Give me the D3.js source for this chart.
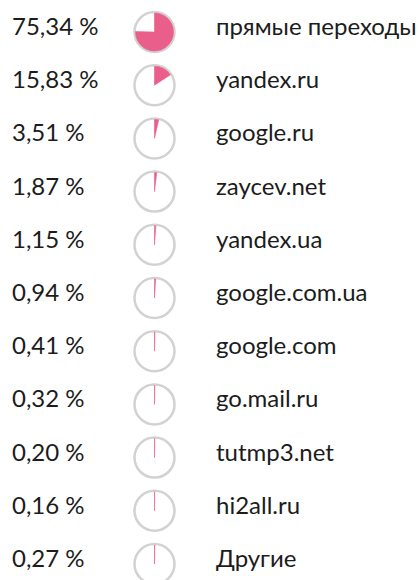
<!DOCTYPE html>
<html>
<head>
<meta charset="utf-8">
<script src="https://cdn.jsdelivr.net/npm/d3@7"></script>
<style>
  body { margin: 0; background: #fff; }
  text { font-family: Lato, Roboto, sans-serif; fill: #1c1c1c; }
</style>
</head>
<body>
<svg id="chart"></svg>
<script>
const width = 418, height = 580;

// traffic sources and their share, %
const sources = ["прямые переходы", "yandex.ru", "google.ru", "zaycev.net", "yandex.ua",
  "google.com.ua", "google.com", "go.mail.ru", "tutmp3.net", "hi2all.ru", "Другие"];
const shares = [75.34, 15.83, 3.51, 1.87, 1.15, 0.94, 0.41, 0.32, 0.20, 0.16, 0.27];

const data = sources.map((s, i) => ({ name: s, value: shares[i] }));

const svg = d3.select("#chart")
  .attr("width", width)
  .attr("height", height);

// one row per source
const y = d3.scalePoint()
  .domain(sources)
  .range([32, 564]);

// percent -> angle
const angle = d3.scaleLinear()
  .domain([0, 100])
  .range([0, 2 * Math.PI]);

const ru = d3.formatLocale({ decimal: ",", thousands: " ", grouping: [3], currency: ["", ""] });
const fmt = ru.format(".2f");

const pieX = 154.5, r = 20;

const arc = d3.arc()
  .innerRadius(0)
  .outerRadius(r - 1)
  .startAngle(0);

const rows = svg.selectAll("g.row")
  .data(data)
  .enter().append("g")
  .attr("class", "row")
  .attr("transform", d => `translate(0,${y(d.name)})`);

// percent label
rows.append("text")
  .attr("x", 12)
  .attr("y", 3)
  .style("font-size", "24px")
  .text(d => fmt(d.value) + " %");

// the little pie
rows.append("circle")
  .attr("cx", pieX)
  .attr("cy", 0)
  .attr("r", r)
  .attr("fill", "#fff")
  .attr("stroke", "#d2d2d2")
  .attr("stroke-width", 2.5);

rows.append("path")
  .attr("transform", `translate(${pieX},0)`)
  .attr("fill", "#e95e8a")
  .attr("stroke", "#e95e8a")
  .attr("stroke-width", 0.6)
  .attr("d", d => arc.endAngle(angle(d.value))());

// source name
rows.append("text")
  .attr("x", 216)
  .attr("y", 3)
  .style("font-size", "24px")
  .text(d => d.name);
</script>
</body>
</html>
